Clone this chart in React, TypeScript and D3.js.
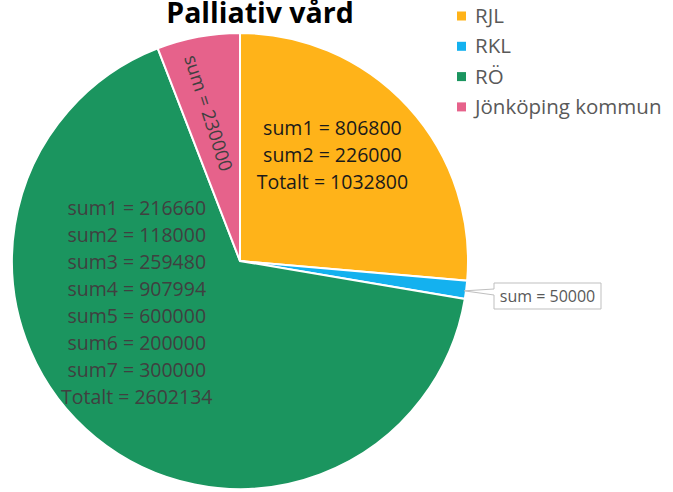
import React from "react";
import * as d3 from "d3";

const categories = ["RJL", "RKL", "RÖ", "Jönköping kommun"];
const values = [1032800, 50000, 2602134, 230000];
const colors = ["#FFB319", "#14B1EF", "#1B955F", "#E6628B"];
const sliceLabels = [
  ["sum1 = 806800", "sum2 = 226000", "Totalt = 1032800"],
  ["sum = 50000"],
  [
    "sum1 = 216660",
    "sum2 = 118000",
    "sum3 = 259480",
    "sum4 = 907994",
    "sum5 = 600000",
    "sum6 = 200000",
    "sum7 = 300000",
    "Totalt = 2602134",
  ],
  ["sum = 230000"],
];

const width = 673;
const height = 492;
const cx = 240;
const cy = 261;
const radius = 228;
const font = "'Open Sans', sans-serif";

export default function App() {
  const pie = d3.pie<number>().sort(null).value((d) => d);
  const arcs = pie(values);
  const arc = d3.arc<d3.PieArcDatum<number>>().innerRadius(0).outerRadius(radius);
  const labelArc = d3.arc<d3.PieArcDatum<number>>().innerRadius(0).outerRadius(radius * 1.1);

  const [ox, oy] = labelArc.centroid(arcs[0]);
  const [gx, gy] = labelArc.centroid(arcs[2]);
  const pinkMid = (arcs[3].startAngle + arcs[3].endAngle) / 2;
  const pr = radius * 0.66;
  const px = Math.sin(pinkMid) * pr - 4;
  const py = -Math.cos(pinkMid) * pr;
  const pinkRot = (pinkMid * 180) / Math.PI - 277;
  const blueMid = (arcs[1].startAngle + arcs[1].endAngle) / 2;
  const bx = Math.sin(blueMid) * radius;
  const by = -Math.cos(blueMid) * radius;

  const boxX = 494 - cx;
  const boxY = 283 - cy;
  const boxW = 107;
  const boxH = 26;

  return (
    <svg
      width={width}
      height={height}
      style={{ position: "absolute", left: 0, top: 0, background: "#fff" }}
    >
      <text
        x={260}
        y={23}
        textAnchor="middle"
        fontFamily={font}
        fontWeight="bold"
        fontSize={28.5}
        fill="#000"
      >
        Palliativ vård
      </text>
      <g transform={`translate(${cx},${cy})`}>
        {arcs.map((a, i) => (
          <path key={i} d={arc(a) ?? ""} fill={colors[i]} stroke="#fff" strokeWidth={2} />
        ))}
        <g fontFamily={font} fontSize={19.5} textAnchor="middle">
          {sliceLabels[0].map((t, i) => (
            <text key={i} x={ox} y={oy - 48 + i * 27} dy="0.35em" fill="#1a1a1a">
              {t}
            </text>
          ))}
          {sliceLabels[2].map((t, i) => (
            <text key={i} x={gx - 24} y={gy - 150 + i * 27} dy="0.35em" fill="#404040">
              {t}
            </text>
          ))}
          <text
            transform={`translate(${px},${py}) rotate(${pinkRot})`}
            dy="0.35em"
            fill="#404040"
            fontSize={18.5}
          >
            {sliceLabels[3][0]}
          </text>
        </g>
        <path
          d={`M${bx - 2},${by + 1} L${boxX},${boxY + 6} L${boxX},${boxY} L${boxX + boxW},${boxY} L${boxX + boxW},${boxY + boxH} L${boxX},${boxY + boxH} L${boxX},${boxY + 12} Z`}
          fill="#fff"
          stroke="#BFBFBF"
          strokeWidth={1}
        />
        <text
          x={boxX + boxW / 2}
          y={boxY + boxH / 2}
          dy="0.35em"
          textAnchor="middle"
          fontFamily={font}
          fontSize={16}
          fill="#595959"
        >
          {sliceLabels[1][0]}
        </text>
      </g>
      <g fontFamily={font} fontSize={20.5} fill="#595959">
        {categories.map((c, i) => (
          <g key={c} transform={`translate(457,${16 + i * 30.3})`}>
            <rect x={0} y={-4.5} width={9} height={9} fill={colors[i]} />
            <text x={18} y={0} dy="0.35em">
              {c}
            </text>
          </g>
        ))}
      </g>
    </svg>
  );
}
